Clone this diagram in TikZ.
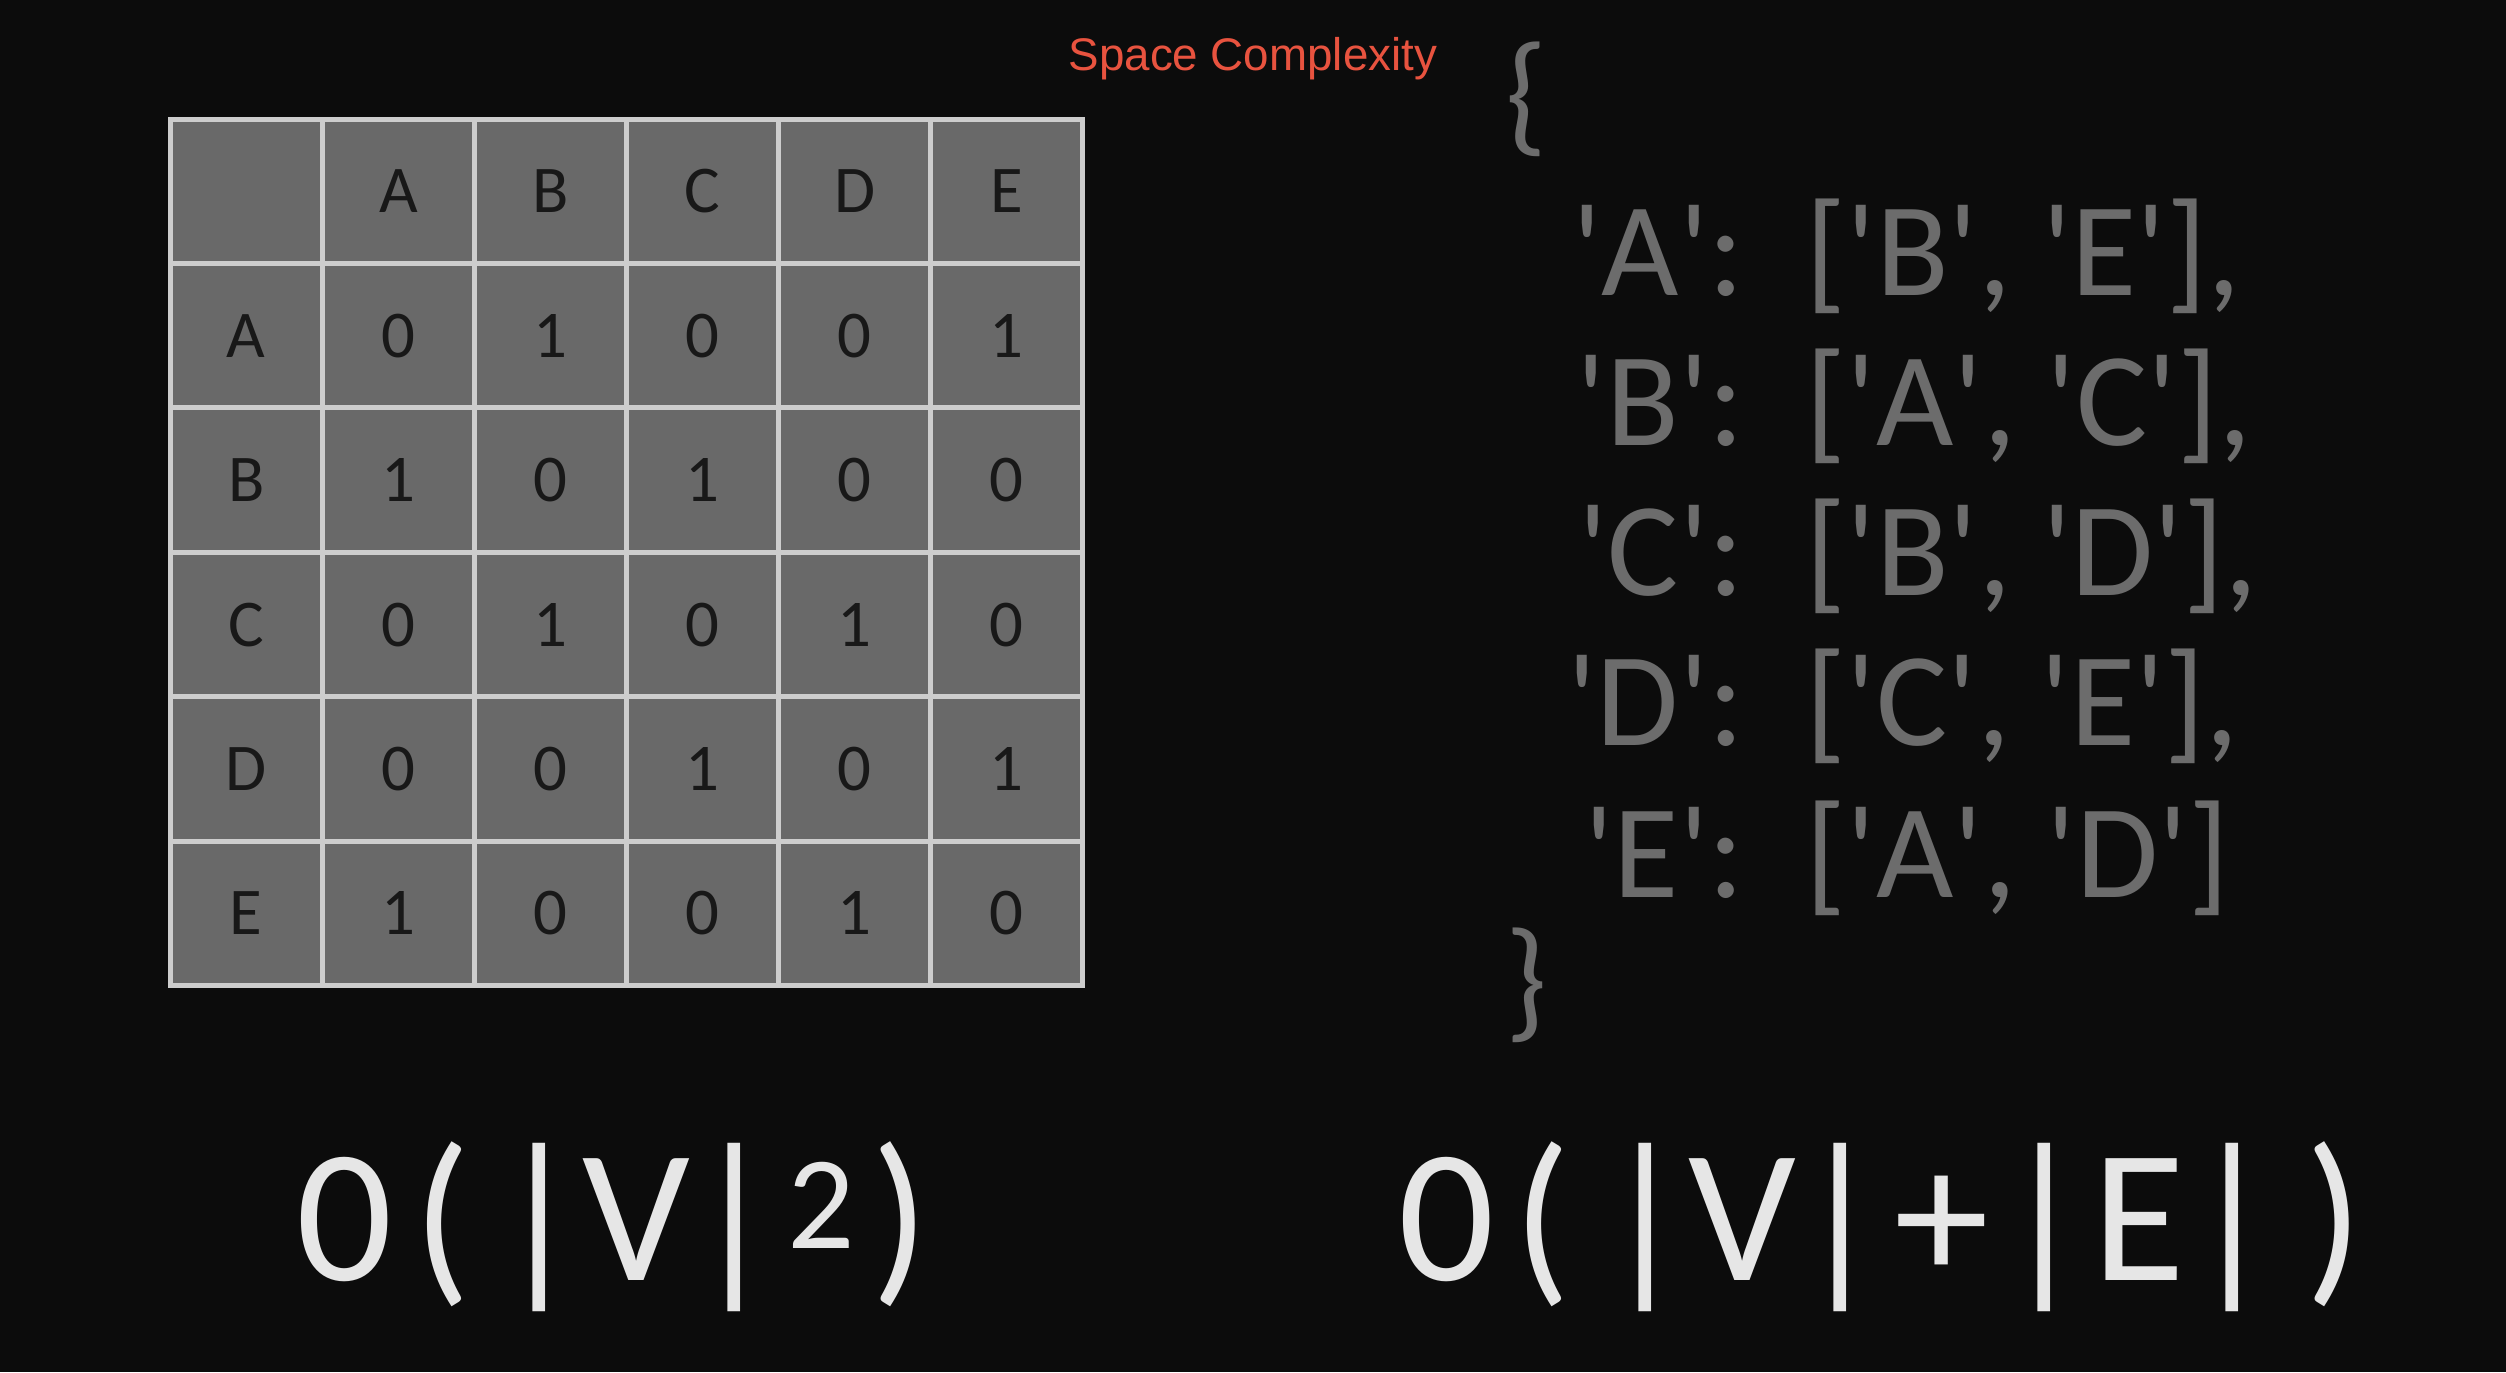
\documentclass[tikz,border=0pt]{standalone}
\usepackage{fontspec}
\setmainfont{Carlito}
\newfontfamily\titlefont{Liberation Sans}
\usetikzlibrary{matrix, positioning}
\definecolor{slidebg}{RGB}{12, 12, 12}
\definecolor{cellgray}{RGB}{105, 105, 105}
\definecolor{gridgray}{RGB}{205, 205, 205}
\definecolor{celltext}{RGB}{24, 24, 24}
\definecolor{dictgray}{RGB}{108, 108, 108}
\definecolor{bigwhite}{RGB}{230, 230, 230}
\definecolor{titlered}{RGB}{232, 83, 63}
\newcommand{\sq}[1]{\textquotesingle#1\textquotesingle}

\begin{document}
\begin{tikzpicture}[
  x=0.01cm, y=-0.01cm,
  cell/.style={
    draw=gridgray,
    fill=cellgray,
    line width=1.42pt,
    minimum width=1.52cm,
    minimum height=1.443cm,
    anchor=center,
    text=celltext,
    font=\fontsize{19}{22}\selectfont,
  },
  adjmatrix/.style={
    matrix of nodes,
    nodes in empty cells,
    inner sep=0pt,
    column sep=-1.42pt,
    row sep=-1.42pt,
    nodes={cell},
  },
  dictkey/.style={
    anchor=base east,
    inner sep=0pt,
    text=dictgray,
    font=\fontsize{38}{44}\selectfont,
  },
  dictlist/.style={
    anchor=base west,
    inner sep=0pt,
    text=dictgray,
    font=\fontsize{38}{44}\selectfont,
  },
  bigo/.style={
    anchor=base west,
    inner sep=0pt,
    text=bigwhite,
    font=\fontsize{54}{60}\selectfont,
  }
]

  \useasboundingbox (0, 0) rectangle (2506, 1372);
  \fill[slidebg] (0, 0) rectangle (2506, 1372);

  % Title
  \node[anchor=base west, inner sep=0pt, text=titlered,
    font=\titlefont\fontsize{13}{15}\selectfont] (title) at (1068, 70) {Space Complexity};

  % Adjacency matrix
  \matrix (adj) [adjmatrix, anchor=north west] at (167, 116) {
      & A & B & C & D & E \\
    A & 0 & 1 & 0 & 0 & 1 \\
    B & 1 & 0 & 1 & 0 & 0 \\
    C & 0 & 1 & 0 & 1 & 0 \\
    D & 0 & 0 & 1 & 0 & 1 \\
    E & 1 & 0 & 0 & 1 & 0 \\
  };

  % Adjacency list
  \node[dictlist] (open) at (1505, 138) {\{};
  \node[dictkey] (key-a) at (1745, 295) {\sq{A}:};
  \node[dictlist] (list-a) at (1805, 295) {[\sq{B}, \sq{E}],};
  \node[dictkey] (key-b) at (1745, 445) {\sq{B}:};
  \node[dictlist] (list-b) at (1805, 445) {[\sq{A}, \sq{C}],};
  \node[dictkey] (key-c) at (1745, 595) {\sq{C}:};
  \node[dictlist] (list-c) at (1805, 595) {[\sq{B}, \sq{D}],};
  \node[dictkey] (key-d) at (1745, 745) {\sq{D}:};
  \node[dictlist] (list-d) at (1805, 745) {[\sq{C}, \sq{E}],};
  \node[dictkey] (key-e) at (1745, 897) {\sq{E}:};
  \node[dictlist] (list-e) at (1805, 897) {[\sq{A}, \sq{D}]};
  \node[dictlist] (close) at (1505, 1024) {\}};

  % Complexities
  \node[bigo] (matrix-cost) at (296, 1280)
    {0\kern.11em(\kern-.1em{} |V|\kern.05em\textsuperscript{2}\kern.08em)};
  \node[bigo] (list-cost) at (1398, 1280)
    {0\kern.1em(\kern-.07em{} |V|\kern.06em+\kern.06em|\kern.02em E\kern.02em| \kern-.07em)};

\end{tikzpicture}
\end{document}
